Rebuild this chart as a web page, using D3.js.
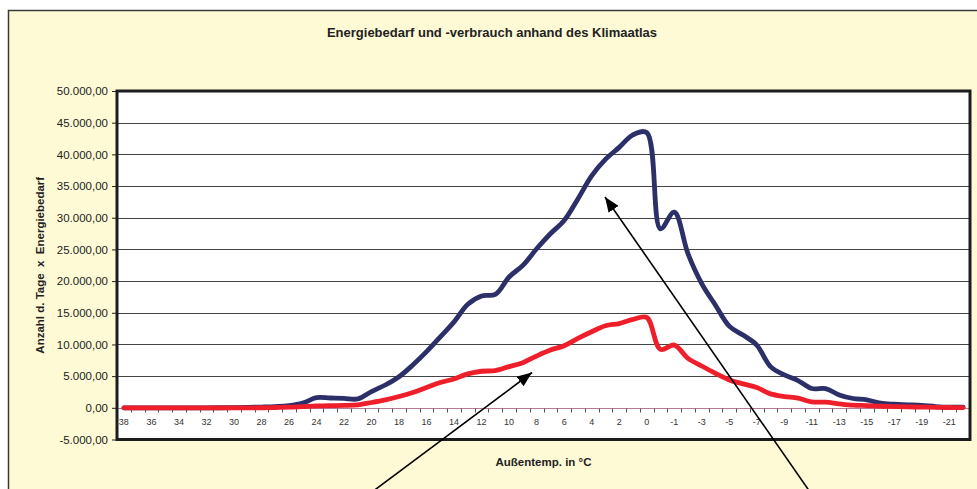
<!DOCTYPE html>
<html>
<head>
<meta charset="utf-8">
<script src="https://cdn.jsdelivr.net/npm/d3@7"></script>
<style>
  body { margin: 0; background: #fff; }
  svg { display: block; font-family: "Liberation Sans", Arial, sans-serif; }
</style>
</head>
<body>
<svg id="chart" width="977" height="489"></svg>
<script>
// categories: outside temperature (the source sheet has a "0" and a "-0" row)
const temps = ["38","37","36","35","34","33","32","31","30","29","28","27","26","25","24","23","22","21","20","19",
  "18","17","16","15","14","13","12","11","10","9","8","7","6","5","4","3","2","1","0","-0",
  "-1","-2","-3","-4","-5","-6","-7","-8","-9","-10","-11","-12","-13","-14","-15","-16","-17","-18","-19","-20",
  "-21","-22"];

// Energiebedarf (blue)
const bedarf = [0,0,0,0,0,0,0,10,30,60,120,200,350,750,1600,1550,1500,1400,2570,3600,
  4900,6760,8860,11200,13570,16350,17660,17900,20650,22480,25100,27470,29560,32970,36600,39200,41100,43080,43450,28250,
  30870,24320,19600,16190,12890,11480,9900,6500,5190,4300,3040,3040,2040,1470,1260,730,570,480,380,200,
  100,100];

// Energieverbrauch (red)
const verbrauch = [0,0,0,0,0,0,0,0,0,0,10,50,100,200,300,350,380,470,840,1260,
  1780,2410,3200,3990,4560,5350,5770,5870,6500,7130,8180,9120,9800,10950,12000,12950,13300,13950,14260,9230,
  9900,7810,6600,5450,4400,3770,3200,2200,1780,1520,940,890,630,420,350,250,200,150,120,80,
  50,40];

const yTicks = [-5000,0,5000,10000,15000,20000,25000,30000,35000,40000,45000,50000];

const svg = d3.select("#chart");
const plot = { left: 117, right: 970, top: 91, bottom: 439.5 };

const fmt = v => {
  const s = d3.format(",.2f")(v);
  return s.replace(/,/g, "#").replace(/\./g, ",").replace(/#/g, ".").replace("−", "-");
};

const x = d3.scaleBand().domain(temps).range([plot.left, plot.right]).padding(0);
const xc = t => x(t) + x.bandwidth() / 2;
const y = d3.scaleLinear().domain([-5000, 50000]).range([plot.bottom, plot.top]);

// chart area
svg.append("rect")
  .attr("x", 8.5).attr("y", 10.5)
  .attr("width", 1000).attr("height", 500)
  .attr("fill", "#fffad6")
  .attr("stroke", "#3a3a3a").attr("stroke-width", 1.5);

svg.append("text")
  .attr("x", 492).attr("y", 37)
  .attr("text-anchor", "middle")
  .attr("font-size", "13px").attr("font-weight", "bold").attr("fill", "#222")
  .text("Energiebedarf und -verbrauch anhand des Klimaatlas");

// plot area
svg.append("rect")
  .attr("x", plot.left).attr("y", plot.top)
  .attr("width", plot.right - plot.left).attr("height", plot.bottom - plot.top)
  .attr("fill", "#fff");

svg.append("g")
  .selectAll("line")
  .data(yTicks.filter(v => v !== 0 && v !== -5000 && v !== 50000))
  .join("line")
    .attr("x1", plot.left).attr("x2", plot.right)
    .attr("y1", d => Math.round(y(d)) + 0.5).attr("y2", d => Math.round(y(d)) + 0.5)
    .attr("stroke", "#444").attr("stroke-width", 1);

// y axis ticks + labels
const yAxis = svg.append("g")
  .attr("transform", `translate(${plot.left},0)`)
  .call(d3.axisLeft(y).tickValues(yTicks).tickFormat(fmt).tickSize(5).tickPadding(4));
yAxis.select(".domain").remove();
yAxis.selectAll("line").attr("stroke", "#222");
yAxis.selectAll("text")
  .attr("font-family", "'Liberation Sans', Arial, sans-serif")
  .attr("font-size", "11.5px").attr("fill", "#222");

svg.append("text")
  .attr("transform", `translate(44,${(plot.top + plot.bottom) / 2}) rotate(-90)`)
  .attr("text-anchor", "middle")
  .attr("font-size", "11.5px").attr("font-weight", "bold").attr("fill", "#222")
  .style("white-space", "pre")
  .text("Anzahl d. Tage  x  Energiebedarf");

// zero line (category axis) with tick marks between categories
const y0 = Math.round(y(0)) + 0.5;
svg.append("line")
  .attr("x1", plot.left).attr("x2", plot.right)
  .attr("y1", y0).attr("y2", y0)
  .attr("stroke", "#b77896").attr("stroke-width", 1);

svg.append("g")
  .selectAll("line")
  .data(temps.slice(1))
  .join("line")
    .attr("x1", d => Math.round(x(d)) + 0.5).attr("x2", d => Math.round(x(d)) + 0.5)
    .attr("y1", y0).attr("y2", y0 + 4)
    .attr("stroke", "#555");

svg.append("g")
  .selectAll("text")
  .data(temps.filter((d, i) => i % 2 === 0))
  .join("text")
    .attr("x", d => xc(d)).attr("y", y0 + 16)
    .attr("text-anchor", "middle")
    .attr("font-size", "9px").attr("fill", "#333")
    .text(d => d);

svg.append("text")
  .attr("x", (plot.left + plot.right) / 2).attr("y", 466)
  .attr("text-anchor", "middle")
  .attr("font-size", "11.5px").attr("font-weight", "bold").attr("fill", "#222")
  .text("Außentemp. in °C");

// series
const line = d3.line()
  .x((d, i) => xc(temps[i]))
  .y(d => y(d))
  .curve(d3.curveCatmullRom.alpha(0.5));

svg.append("path").datum(bedarf)
  .attr("d", line).attr("fill", "none")
  .attr("stroke", "#2c2f68").attr("stroke-width", 4.8)
  .attr("stroke-linejoin", "round").attr("stroke-linecap", "round");

svg.append("path").datum(verbrauch)
  .attr("d", line).attr("fill", "none")
  .attr("stroke", "#ee1f2a").attr("stroke-width", 4.8)
  .attr("stroke-linejoin", "round").attr("stroke-linecap", "round");

// plot border
svg.append("rect")
  .attr("x", plot.left).attr("y", plot.top)
  .attr("width", plot.right - plot.left).attr("height", plot.bottom - plot.top)
  .attr("fill", "none").attr("stroke", "#1c1c1c").attr("stroke-width", 3);

// annotation arrows
svg.append("defs").append("marker")
  .attr("id", "head")
  .attr("viewBox", "0 0 15 12")
  .attr("refX", 15).attr("refY", 6)
  .attr("markerWidth", 15).attr("markerHeight", 12)
  .attr("markerUnits", "userSpaceOnUse")
  .attr("orient", "auto")
  .append("path").attr("d", "M0,0 L15,6 L0,12 z").attr("fill", "#000");

const arrows = [
  { from: [372, 492], to: [532, 372.5] },
  { from: [810, 492], to: [605, 197] }
];
svg.append("g")
  .selectAll("line")
  .data(arrows)
  .join("line")
    .attr("x1", d => d.from[0]).attr("y1", d => d.from[1])
    .attr("x2", d => d.to[0]).attr("y2", d => d.to[1])
    .attr("stroke", "#000").attr("stroke-width", 1.6)
    .attr("marker-end", "url(#head)");
</script>
</body>
</html>
